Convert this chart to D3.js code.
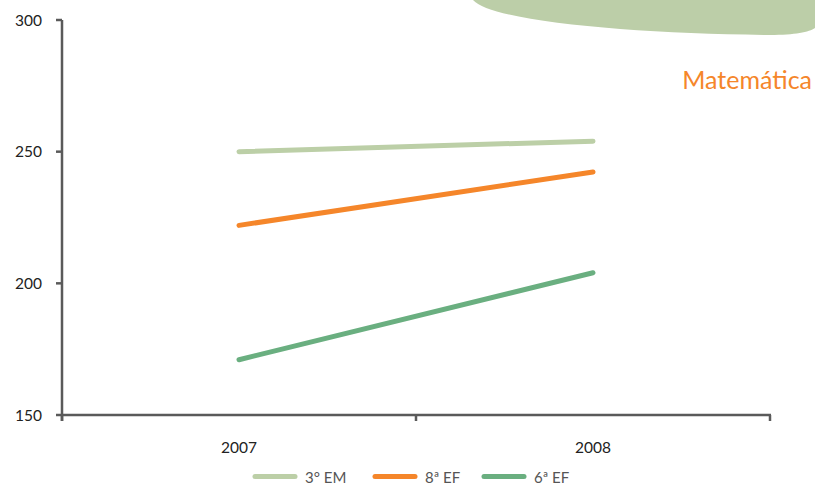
<!DOCTYPE html>
<html>
<head>
<meta charset="utf-8">
<script src="https://cdn.jsdelivr.net/npm/d3@7"></script>
<style>
  html, body { margin: 0; padding: 0; background: #fff; }
  svg { display: block; font-family: Lato, "Open Sans", sans-serif; }
</style>
</head>
<body>
<svg id="chart" width="815" height="485"></svg>
<script>
// Proficiência média em Matemática por série
const years = ["2007", "2008"];
const seriesNames = ["3° EM", "8ª EF", "6ª EF"];
const seriesColors = ["#bccfa7", "#f5862a", "#6aaf80"];
const em3 = [250, 254];
const ef8 = [222, 242.3];
const ef6 = [171, 204];
const yTicks = [150, 200, 250, 300];

const seriesValues = [em3, ef8, ef6];

const svg = d3.select("#chart");
const axisColor = "#5a5a5a";

// Decorative header blob in the top-right corner
svg.append("path")
  .attr("d", "M473,0 C492,22 640,34 770,35 C795,35 809,32 815,28 L815,0 Z")
  .attr("fill", "#bccea8");

svg.append("text")
  .attr("x", 812).attr("y", 89)
  .attr("text-anchor", "end")
  .attr("font-size", 25)
  .attr("fill", "#f5862a")
  .text("Matemática");

const x = d3.scaleBand().domain(years).range([62, 770]).padding(0);
const y = d3.scaleLinear().domain([150, 300]).range([415, 20]);

// Y axis
const yAxis = svg.append("g");
yAxis.append("line")
  .attr("x1", 62).attr("x2", 62)
  .attr("y1", y(300)).attr("y2", y(150) + 6)
  .attr("stroke", axisColor).attr("stroke-width", 2.5);
yAxis.selectAll("line.tick").data(yTicks).join("line")
  .attr("class", "tick")
  .attr("x1", 56).attr("x2", 62)
  .attr("y1", d => y(d)).attr("y2", d => y(d))
  .attr("stroke", axisColor).attr("stroke-width", 2.5);
yAxis.selectAll("text").data(yTicks).join("text")
  .attr("x", 42).attr("y", d => y(d) + 5.5)
  .attr("text-anchor", "end")
  .attr("font-size", 15.5)
  .attr("fill", "#222")
  .text(d => d);

// X axis with ticks at band boundaries
const xEdges = years.map(d => x(d)).concat([x(years[years.length - 1]) + x.bandwidth()]);
const xAxis = svg.append("g");
xAxis.append("line")
  .attr("x1", 62).attr("x2", 771)
  .attr("y1", y(150)).attr("y2", y(150))
  .attr("stroke", axisColor).attr("stroke-width", 2.5);
xAxis.selectAll("line.tick").data(xEdges).join("line")
  .attr("class", "tick")
  .attr("x1", d => d).attr("x2", d => d)
  .attr("y1", y(150)).attr("y2", y(150) + 6)
  .attr("stroke", axisColor).attr("stroke-width", 2.5);
xAxis.selectAll("text").data(years).join("text")
  .attr("x", d => x(d) + x.bandwidth() / 2)
  .attr("y", 453)
  .attr("text-anchor", "middle")
  .attr("font-size", 15.5)
  .attr("fill", "#222")
  .text(d => d);

// Series lines
const line = d3.line()
  .x((d, i) => x(years[i]) + x.bandwidth() / 2)
  .y(d => y(d));

svg.selectAll("path.series").data(seriesValues).join("path")
  .attr("class", "series")
  .attr("d", d => line(d))
  .attr("fill", "none")
  .attr("stroke", (d, i) => seriesColors[i])
  .attr("stroke-width", 5)
  .attr("stroke-linecap", "round");

// Legend
const legendX = [255, 375, 484];
const legend = svg.append("g");
seriesNames.forEach((name, i) => {
  legend.append("line")
    .attr("x1", legendX[i]).attr("x2", legendX[i] + 40)
    .attr("y1", 476.5).attr("y2", 476.5)
    .attr("stroke", seriesColors[i])
    .attr("stroke-width", 5)
    .attr("stroke-linecap", "round");
  legend.append("text")
    .attr("x", legendX[i] + 50).attr("y", 482.5)
    .attr("font-size", 15)
    .attr("fill", "#555")
    .text(name);
});
</script>
</body>
</html>
